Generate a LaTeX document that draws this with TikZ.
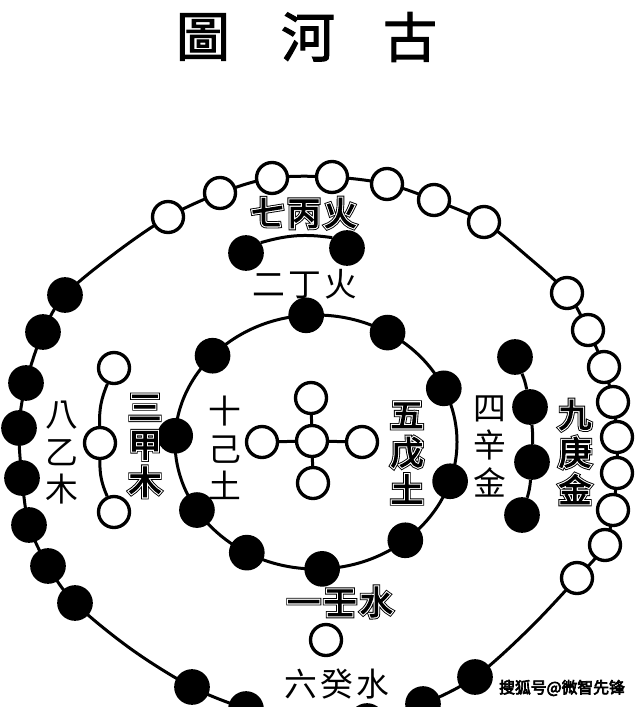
\documentclass[tikz,border=0pt]{standalone}
\usepackage{fontspec}
\newfontfamily\cjk{Noto Sans CJK TC}
\newfontfamily\cjkT[FakeBold=2]{Noto Sans CJK TC}
\newfontfamily\cjkA[FakeBold=15]{Noto Sans CJK TC}
\newfontfamily\cjkB[FakeBold=9.5]{Noto Sans CJK TC}
\newfontfamily\cjkC[FakeBold=3]{Noto Sans CJK TC}
\newfontfamily\cjkW[FakeBold=4]{Noto Sans CJK TC}
\usetikzlibrary{backgrounds}
\newcommand\lblsize{\fontsize{28pt}{32pt}\selectfont}
\newcommand\olab[3]{%
  \node[olab, font=\cjkA\lblsize, text=black] (#2a) at (#1) {#3};
  \node[olab, font=\cjkB\lblsize, text=white] (#2b) at (#1) {#3};
  \node[olab, font=\cjkC\lblsize, text=black] (#2) at (#1) {#3};
}
\tikzset{
  ring/.style={line width=0.09cm, line join=round},
  link/.style={line width=0.09cm},
  bdot/.style={circle, fill=black, inner sep=0pt, minimum size=1.07cm},
  wdot/.style={circle, draw=black, fill=white, line width=0.1cm, inner sep=0pt, minimum size=0.93cm},
  plab/.style={font=\cjk\lblsize, align=center, inner sep=0pt, text=black},
  olab/.style={align=center, inner sep=0pt},
  ttl/.style={font=\cjkT\fontsize{46pt}{46pt}\selectfont, inner sep=0pt},
}
\begin{document}
\begin{tikzpicture}[x=0.03cm,y=-0.03cm]
\useasboundingbox (0,0) rectangle (640,707);
\clip (0,0) rectangle (640,707);
\fill[white] (0,0) rectangle (640,707);

% title
\node[ttl] (t1) at (203,37) {圖};
\node[ttl] (t2) at (308,37) {河};
\node[ttl] (t3) at (410,37) {古};

% outer ring
\draw[ring] plot[smooth cycle, tension=0.55] coordinates {
 (168,217) (220,193) (272,178) (332,177) (387,184) (434,200) (484,222) (527,256)
 (567,293) (588,330) (604,367) (613,402) (617,437) (617,473) (613,510) (605,545) (577,578) (528,630)
 (475,677) (423,704) (367,721) (306,728) (246,709) (192,687) (131,649)
 (75,603) (48,566) (29,525) (22,478) (19,428) (26,383) (43,332) (65,295) (114,254)};

% inner ring
\draw[ring] (316,442) ellipse [x radius=141, y radius=127];

% outer white dots (7 top, 9 right)
\foreach \x/\y [count=\i] in {168/217,220/193,272/178,332/177,387/184,434/200,484/222,
  567/293,588/330,604/367,613/402,617/437,617/473,613/510,605/545,577/578}
  \node[wdot] (ow\i) at (\x,\y) {};
% outer black dots (6 bottom, 8 left)
\foreach \x/\y [count=\i] in {475/677,423/704,367/721,306/728,246/709,192/687,
  75/603,48/566,29/525,22/478,19/428,26/383,43/332,65/295}
  \node[bdot] (ob\i) at (\x,\y) {};

% inner ring black dots (10)
\foreach \a [count=\i] in {-94,-59.5,-25,18,50.7,87.5,119.4,147.6,182.8,222.8}
  \node[bdot] (ib\i) at ({316+141*cos(\a)},{442+127*sin(\a)}) {};

% centre cross (5 white)
\node[wdot] (c0) at (312,441) {};
\node[wdot] (cn) at (311,398) {};
\node[wdot] (cs) at (313,483) {};
\node[wdot] (cw) at (262,442) {};
\node[wdot] (ce) at (362,442) {};
\draw[link] (c0) -- (cn);
\draw[link] (c0) -- (cs);
\draw[link] (c0) -- (cw);
\draw[link] (c0) -- (ce);

% two black (fire)
\node[bdot] (f1) at (246,253) {};
\node[bdot] (f2) at (347,248) {};
\draw[link] (f1.35) to[bend left=12] (f2.145);

% three white (wood)
\node[wdot] (m1) at (114,368) {};
\node[wdot] (m2) at (100,443) {};
\node[wdot] (m3) at (114,512) {};
\draw[link] (m1) to[bend right=12] (m2);
\draw[link] (m2) to[bend right=12] (m3);

% four black (metal)
\node[bdot] (k1) at (515,357) {};
\node[bdot] (k2) at (530,407) {};
\node[bdot] (k3) at (532,462) {};
\node[bdot] (k4) at (522,515) {};
\draw[link] (k1) to[bend left=6] (k2);
\draw[link] (k2) to[bend left=4] (k3);
\draw[link] (k3) to[bend left=6] (k4);

% one white (water)
\node[wdot] (wx) at (326,640) {};

% labels
\olab{304,213}{l7}{七\hspace{3pt}丙\hspace{3pt}火}
\node[plab] (l2) at (305,284) {二\hspace{3pt}丁\hspace{3pt}火};
\node[plab] (l8) at (62,453) {八\\乙\\木};
\olab{145,446}{l3}{三\\甲\\木}
\node[plab] (l10) at (225,448) {十\\己\\土};
\olab{407,453}{l5}{五\\戊\\土}
\node[plab] (l4) at (490,446) {四\\辛\\金};
\olab{575,452}{l9}{九\\庚\\金}
\olab{340,602}{l1}{一\hspace{3pt}壬\hspace{3pt}水}
\node[plab] (l6) at (337,684) {六\hspace{3pt}癸\hspace{3pt}水};

% watermark
\node[font=\cjkW\fontsize{13.5pt}{14pt}\selectfont, inner sep=0pt] (wm) at (562,688) {搜狐号@微智先锋};
\end{tikzpicture}
\end{document}
